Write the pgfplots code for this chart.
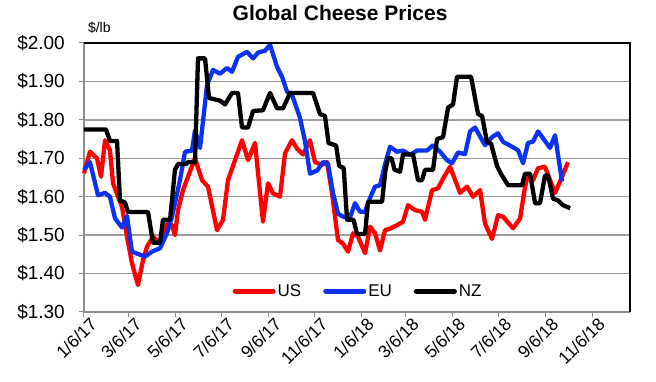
\documentclass[border=0pt]{standalone}
\usepackage{fontspec}
\setmainfont{Liberation Sans}
\usepackage{pgfplots}
\pgfplotsset{compat=1.18}
\usepackage{pgfplotstable}
\definecolor{usred}{RGB}{255,0,0}
\definecolor{eublue}{RGB}{10,50,240}
\definecolor{gridgray}{RGB}{140,140,140}

% x = days since 1/6/17
\pgfplotstableread{
x y
0 1.661
7.9 1.717
17.1 1.700
22.4 1.652
27.7 1.747
34.2 1.721
38.2 1.635
44.8 1.600
50.0 1.574
56.6 1.496
63.2 1.427
71.1 1.370
77.7 1.435
83.0 1.470
90.9 1.496
100.1 1.478
109.3 1.530
115.9 1.526
119.8 1.500
123.8 1.565
130.4 1.617
137.0 1.652
146.2 1.700
155.4 1.643
163.3 1.626
175.2 1.513
183.1 1.540
189.6 1.643
198.9 1.695
208.1 1.747
216.0 1.695
225.2 1.740
235.7 1.535
242.3 1.635
248.9 1.609
258.1 1.600
264.7 1.713
273.9 1.747
280.5 1.725
288.4 1.710
297.6 1.747
304.2 1.690
313.4 1.683
320.0 1.690
326.6 1.610
334.5 1.487
341.1 1.478
347.7 1.457
354.3 1.505
360.9 1.496
370.1 1.453
376.7 1.522
383.2 1.505
389.8 1.460
396.4 1.513
403.0 1.517
412.2 1.526
420.1 1.535
426.7 1.578
435.9 1.565
445.1 1.561
449.1 1.540
458.3 1.617
466.2 1.622
472.8 1.647
482.0 1.678
495.2 1.610
504.4 1.626
512.3 1.600
521.5 1.617
528.1 1.530
537.3 1.490
545.2 1.552
551.8 1.548
565.0 1.518
574.2 1.543
580.8 1.626
584.7 1.656
591.3 1.643
597.9 1.674
607.1 1.678
613.7 1.643
620.3 1.610
626.9 1.640
637.4 1.690
}\usdata

\pgfplotstableread{
x y
0 1.670
7.9 1.690
18.4 1.604
27.7 1.610
34.2 1.600
40.8 1.544
50.0 1.520
56.6 1.550
63.2 1.457
80.3 1.444
89.6 1.457
100.1 1.466
109.3 1.505
115.9 1.548
126.4 1.643
133.0 1.717
142.2 1.720
146.2 1.773
152.8 1.727
162.0 1.890
169.9 1.930
179.1 1.920
188.3 1.935
194.9 1.925
202.8 1.964
214.7 1.977
222.6 1.960
229.2 1.975
238.4 1.980
245.0 1.995
254.2 1.938
260.8 1.912
267.4 1.873
273.9 1.865
284.5 1.805
291.1 1.743
297.6 1.660
306.9 1.668
314.8 1.690
321.3 1.686
327.9 1.610
334.5 1.556
341.1 1.548
350.3 1.546
356.9 1.583
363.5 1.561
370.1 1.561
376.7 1.597
383.2 1.626
389.8 1.630
396.4 1.684
403.0 1.730
412.2 1.717
420.1 1.720
429.3 1.709
438.6 1.720
451.7 1.720
459.6 1.734
468.9 1.717
478.1 1.695
484.7 1.687
492.5 1.715
501.8 1.711
508.4 1.770
515.0 1.780
521.5 1.757
528.1 1.734
537.3 1.755
545.2 1.765
551.8 1.743
563.7 1.730
571.6 1.721
578.2 1.687
584.7 1.740
591.3 1.743
597.9 1.770
604.5 1.752
613.7 1.727
620.3 1.760
629.5 1.640
}\eudata

\pgfplotstableread{
x y
0 1.775
29.0 1.775
34.2 1.745
43.5 1.745
47.4 1.590
54.0 1.585
57.9 1.560
84.3 1.560
90.9 1.480
100.1 1.480
104.0 1.540
113.3 1.540
119.8 1.670
123.8 1.685
134.3 1.685
137.0 1.690
146.2 1.690
150.1 1.960
159.4 1.960
164.6 1.857
179.1 1.850
185.7 1.840
194.9 1.870
202.8 1.870
208.1 1.780
216.0 1.780
222.6 1.823
235.7 1.825
245.0 1.870
254.2 1.830
262.1 1.830
271.3 1.870
301.6 1.870
310.8 1.815
317.4 1.810
322.0 1.740
332.0 1.733
336.0 1.680
342.0 1.675
346.4 1.540
355.0 1.540
359.5 1.503
370.1 1.503
374.0 1.587
392.5 1.587
397.0 1.670
400.5 1.700
405.0 1.700
409.0 1.670
416.2 1.665
420.1 1.710
433.3 1.710
439.9 1.643
445.1 1.643
449.1 1.670
459.6 1.670
464.9 1.750
472.8 1.755
479.4 1.832
486.0 1.840
491.2 1.912
509.7 1.912
518.9 1.815
524.2 1.810
530.7 1.742
536.0 1.738
543.9 1.680
549.0 1.660
558.4 1.630
576.8 1.630
580.8 1.660
587.4 1.660
594.0 1.583
600.5 1.583
607.1 1.655
611.1 1.655
617.7 1.595
624.3 1.590
630.8 1.578
640.1 1.570
}\nzdata

\begin{document}
\begin{tikzpicture}
\useasboundingbox (0,0) rectangle (656pt,382pt);
\begin{axis}[
  at={(84pt,70pt)}, anchor=south west,
  scale only axis, width=546pt, height=269pt,
  xmin=0, xmax=719, ymin=1.3, ymax=2.0,
  axis x line*=bottom, axis y line*=left,
  axis line style={draw=gridgray, line width=1.2pt},
  ytick={1.3,1.4,1.5,1.6,1.7,1.8,1.9,2.0},
  yticklabels={\$1.30,\$1.40,\$1.50,\$1.60,\$1.70,\$1.80,\$1.90,\$2.00},
  xtick={0,59,120,181,243,304,365,424,485,546,608,669},
  xticklabels={1/6/17,3/6/17,5/6/17,7/6/17,9/6/17,11/6/17,1/6/18,3/6/18,5/6/18,7/6/18,9/6/18,11/6/18},
  tick align=outside, major tick length=5pt,
  tick style={draw=gridgray, line width=1pt},
  ymajorgrids, grid style={draw=gridgray!85, line width=1.4pt},
  yticklabel style={font=\fontsize{19}{22}\selectfont, inner sep=1pt, xshift=-13pt},
  xticklabel style={font=\fontsize{17.5}{20}\selectfont, rotate=45, anchor=north east, inner sep=1pt, xshift=5pt, yshift=-2pt},
  title={\bfseries Global Cheese Prices},
  title style={at={(axis description cs:0.469,1)}, anchor=base, yshift=16pt, font=\fontsize{21}{25}\selectfont},
  legend columns=3,
  legend style={at={(axis description cs:0.502,0.078)}, anchor=center, draw=none, fill=white,
    font=\fontsize{17}{20}\selectfont, inner sep=1pt,
    /tikz/every even column/.append style={column sep=20pt}},
  legend cell align=left,
  legend image code/.code={\draw[#1, line width=5pt, line cap=round] (0pt,0pt) -- (38pt,0pt);},
  clip=false,
]
\addplot[usred, line width=4.3pt, line join=round] table[x=x,y=y] {\usdata};
\addlegendentry{US}
\addplot[eublue, line width=4.3pt, line join=round] table[x=x,y=y] {\eudata};
\addlegendentry{EU}
\addplot[black, line width=4.3pt, line join=round] table[x=x,y=y] {\nzdata};
\addlegendentry{NZ}
\draw[black, line width=1.5pt] (rel axis cs:0,1) -- (rel axis cs:1,1) -- (rel axis cs:1,0);
\node[anchor=base west, font=\fontsize{14}{16}\selectfont, inner sep=0pt] at ([yshift=10pt]rel axis cs:0.007,1) {\$/lb};
\end{axis}
\end{tikzpicture}
\end{document}
